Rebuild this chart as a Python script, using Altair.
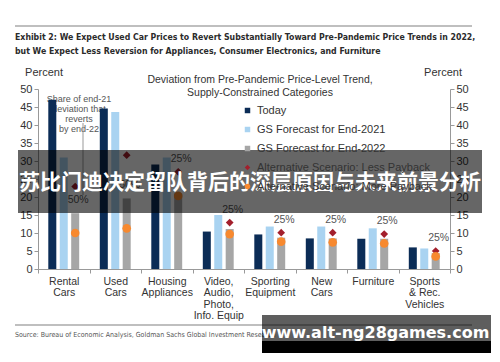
import altair as alt
import pandas as pd

# ---------------- data ----------------
categories = ["Rental|Cars", "Used|Cars", "Housing|Appliances",
              "Video,|Audio,|Photo,|Info. Equip", "Sporting|Equipment",
              "New|Cars", "Furniture", "Sports|& Rec.|Vehicles"]
today = [47.0, 44.6, 29.0, 10.4, 9.6, 8.5, 8.4, 6.0]
end_2021 = [31.0, 43.6, 31.0, 15.0, 11.8, 11.8, 11.3, 5.7]
end_2022 = [15.5, 19.6, 21.0, 11.1, 8.7, 8.5, 8.4, 4.4]
less_payback = [22.9, 31.6, 27.0, 12.9, 10.1, 10.1, 9.7, 5.0]
more_payback = [10.0, 11.3, 20.3, 9.7, 7.6, 7.4, 7.1, 3.5]
share_reverting = ["50%", "50%", "25%", "25%", "25%", "25%", "25%", "25%"]

bar_series = ["Today", "GS Forecast for End-2021", "GS Forecast for End-2022"]
point_series = ["Alternative Scenario: Less Payback", "Alternative Scenario: More Payback"]
all_series = bar_series + point_series
colors = ["#0b2c56", "#a9d3f1", "#a6a6a6", "#a31f2c", "#f7892f"]
shapes = ["square", "square", "square", "diamond", "circle"]

FONT = "'Liberation Sans', Arial, sans-serif"
NARROW = "'Liberation Sans Narrow', 'DejaVu Sans Condensed', sans-serif"

# ---------------- tables ----------------
bar_rows = []
for i, c in enumerate(categories):
    for s, vals in zip(bar_series, [today, end_2021, end_2022]):
        bar_rows.append({"cat": c, "series": s, "slot": s, "value": vals[i]})
bars_df = pd.DataFrame(bar_rows)

pt_rows = []
for i, c in enumerate(categories):
    for s, vals in zip(point_series, [less_payback, more_payback]):
        pt_rows.append({"cat": c, "series": s, "slot": bar_series[2], "value": vals[i]})
pts_df = pd.DataFrame(pt_rows)

lab_df = pd.DataFrame({"cat": categories, "share": share_reverting, "gray": end_2022,
                       "less": less_payback, "slot": [bar_series[2]] * len(categories)})

one = pd.DataFrame({"a": [0]})

# ---------------- encodings ----------------
x_axis = alt.Axis(title=None, labelAngle=0, labelExpr="split(datum.label, '|')",
                  tickBand="extent", labelFontSize=10.5, labelLineHeight=11.5,
                  labelColor="#333", domainColor="#999", tickColor="#999",
                  tickSize=4, labelPadding=3, labelFont=FONT)
x_enc = alt.X("cat:N", sort=categories,
              scale=alt.Scale(domain=categories, paddingInner=0, paddingOuter=0),
              axis=x_axis)
xo_enc = alt.XOffset("slot:N", scale=alt.Scale(domain=bar_series, paddingInner=0.3, paddingOuter=0.9))
y_scale = alt.Scale(domain=[0, 50], nice=False)
ticks = list(range(0, 51, 5))
axis_common = dict(title=None, grid=False, values=ticks, labelFontSize=11, tickSize=4,
                   labelPadding=2, domainColor="#999", tickColor="#999", labelColor="#333",
                   labelFont=FONT)

legend = alt.Legend(title=None, orient="none", legendX=204, legendY=16, labelFontSize=11,
                    symbolSize=30, rowPadding=7, labelColor="#333", labelFont=FONT,
                    labelLimit=300)
color_enc = alt.Color("series:N", scale=alt.Scale(domain=all_series, range=colors), legend=legend)
shape_enc = alt.Shape("series:N", scale=alt.Scale(domain=all_series, range=shapes), legend=legend)

bars = alt.Chart(bars_df).mark_bar().encode(
    x=x_enc, xOffset=xo_enc,
    y=alt.Y("value:Q", scale=y_scale, axis=alt.Axis(orient="left", **axis_common)),
    color=color_enc,
)

diamonds = alt.Chart(pts_df).transform_filter(
    alt.datum.series == point_series[0]
).mark_point(filled=True, opacity=1, size=60).encode(
    x=x_enc, xOffset=xo_enc,
    y=alt.Y("value:Q", scale=y_scale, axis=alt.Axis(orient="right", **axis_common)),
    color=color_enc, shape=shape_enc,
)

circles = alt.Chart(pts_df).transform_filter(
    alt.datum.series == point_series[1]
).mark_point(filled=True, opacity=1, size=75).encode(
    x=x_enc, xOffset=xo_enc,
    y=alt.Y("value:Q", scale=y_scale, axis=None),
    color=color_enc, shape=shape_enc,
)

lab50 = alt.Chart(lab_df).transform_filter(alt.datum.share == "50%").mark_text(
    fontSize=10.5, color="#555", font=FONT, dx=3, dy=-13).encode(
    x=x_enc, xOffset=xo_enc,
    y=alt.Y("gray:Q", scale=y_scale, axis=None), text="share:N")
lab25 = alt.Chart(lab_df).transform_filter(alt.datum.share == "25%").mark_text(
    fontSize=10.5, color="#555", font=FONT, dx=3, dy=-13).encode(
    x=x_enc, xOffset=xo_enc,
    y=alt.Y("less:Q", scale=y_scale, axis=None), text="share:N")


def txt(text, x, y, size, color="#333", font=FONT, weight="normal", align="center", lh=None):
    kw = dict(fontSize=size, color=color, font=font, fontWeight=weight, align=align,
              baseline="middle")
    if lh is not None:
        kw["lineHeight"] = lh
    return alt.Chart(one).mark_text(**kw).encode(
        x=alt.value(x), y=alt.value(y), text=alt.value(text))


def rect(x, x2, y, y2, color, opacity=1.0):
    return alt.Chart(one).mark_rect(color=color, opacity=opacity).encode(
        x=alt.value(x), x2=alt.value(x2), y=alt.value(y), y2=alt.value(y2))


def hrule(x, x2, y, color, w):
    return alt.Chart(one).mark_rule(color=color, strokeWidth=w).encode(
        x=alt.value(x), x2=alt.value(x2), y=alt.value(y))


top_rule = hrule(-23, 434, -63, "#aaaaaa", 1.5)
title1 = txt("Exhibit 2: We Expect Used Car Prices to Revert Substantially Toward Pre-Pandemic Price Trends in 2022,",
             -23, -52, 8.7, color="#2b2b2b", font=NARROW, weight="bold", align="left")
title2 = txt("but We Expect Less Reversion for Appliances, Consumer Electronics, and Furniture",
             -23, -38, 8.7, color="#2b2b2b", font=NARROW, weight="bold", align="left")
pct_l = txt("Percent", 6, -16, 11)
pct_r = txt("Percent", 405, -16, 11)
center_title = txt(["Deviation from Pre-Pandemic Price-Level Trend,", "Supply-Constrained Categories"],
                   222, -9, 10.5, lh=12.5)
note = txt(["Share of end-21", "deviation that", "reverts", "by end-22"], 41, 10, 9,
           color="#555", lh=10)
note_line = alt.Chart(one).mark_rule(color="#999", strokeWidth=1).encode(
    x=alt.value(45), y=alt.value(34), y2=alt.value(106))
bottom_rule = hrule(-23, 434, 236, "#aaaaaa", 1.5)
source = txt("Source: Bureau of Economic Analysis, Goldman Sachs Global Investment Research",
             -23, 246, 7, color="#555", font=NARROW, align="left")

banner = rect(-20, 444, 61, 124, "#000000", 0.6)
banner_text = txt("苏比门迪决定留队背后的深层原因与未来前景分析", 212, 94, 21, color="#ffffff",
                  font="'Noto Sans CJK SC', sans-serif", weight="bold")
wm_box = rect(224, 453, 226, 252, "#000000", 0.63)
wm_black = rect(224, 453, 252, 264, "#000000", 1.0)
wm_text = txt("www.alt-ng28games.com", 337.5, 244, 16, color="#ffffff",
              font="'DejaVu Sans', sans-serif", weight="bold")

chart = alt.layer(
    top_rule, title1, title2, pct_l, pct_r, center_title, note, note_line,
    bars, diamonds, circles, lab50, lab25, bottom_rule, source,
    banner, banner_text, wm_box, wm_black, wm_text,
).resolve_axis(y="independent").properties(
    width=412, height=180,
    padding={"left": 30, "top": 81, "right": 42, "bottom": 85},
    autosize=alt.AutoSizeParams(type="none"),
    background="white",
).configure_view(stroke=None)

chart.save("out.html", embed_options={"renderer": "svg", "actions": False})
